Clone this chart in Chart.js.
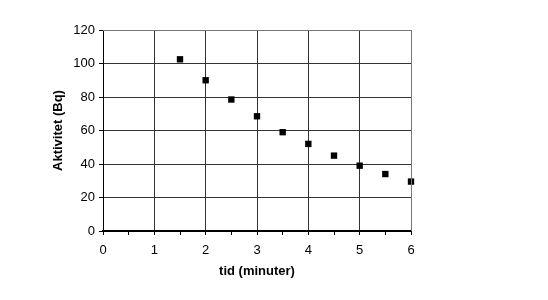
<!DOCTYPE html>
<html>
<head>
<meta charset="utf-8">
<script src="https://cdn.jsdelivr.net/npm/chart.js@4/dist/chart.umd.min.js"></script>
<style>
	html, body { margin: 0; padding: 0; background: #fff; }
	#wrap { width: 548px; height: 300px; }
</style>
</head>
<body>
<div id="wrap"><canvas id="chart" width="548" height="300"></canvas></div>
<script>
const tid = [1.5, 2, 2.5, 3, 3.5, 4, 4.5, 5, 5.5, 6];
const aktivitet = [102.5, 90, 78.5, 68.5, 59, 52, 45, 39, 34, 29.5];
const xTicks = [0, 1, 2, 3, 4, 5, 6];
const yTicks = [0, 20, 40, 60, 80, 100, 120];

const font = { family: "'Liberation Sans', Arial, sans-serif", size: 13 };
const titleFont = { family: "'Liberation Sans', Arial, sans-serif", size: 13, weight: 'bold' };
const isWhole = v => Math.abs(v - Math.round(v)) < 1e-6;

new Chart(document.getElementById('chart'), {
	type: 'scatter',
	data: {
		datasets: [{
			data: tid.map((t, i) => ({ x: t, y: aktivitet[i] })),
			pointStyle: 'rect',
			pointRadius: 4.5,
			backgroundColor: '#000',
			borderColor: '#000',
			borderWidth: 0,
			clip: false
		}]
	},
	options: {
		responsive: false,
		animation: false,
		layout: { padding: { left: 51, top: 30, right: 137, bottom: 21 } },
		plugins: { legend: { display: false }, tooltip: { enabled: false } },
		scales: {
			x: {
				type: 'linear',
				min: xTicks[0],
				max: xTicks[xTicks.length - 1],
				afterBuildTicks: axis => {
					const ticks = [];
					for (let v = xTicks[0]; v <= xTicks[xTicks.length - 1] + 1e-6; v += 0.5) ticks.push({ value: v });
					axis.ticks = ticks;
				},
				ticks: {
					color: '#000',
					font: font,
					padding: 8,
					maxRotation: 0,
					autoSkip: false,
					callback: v => isWhole(v) ? String(v) : ''
				},
				grid: {
					color: ctx => (ctx.tick && isWhole(ctx.tick.value)) ? '#333' : 'rgba(0,0,0,0)',
					tickColor: '#000',
					tickLength: 4,
					lineWidth: 1
				},
				border: { color: '#000', width: 2 },
				title: { display: true, text: 'tid (minuter)', color: '#000', font: titleFont, padding: { top: 10, bottom: 0 } },
				afterFit: axis => { axis.height = 48; }
			},
			y: {
				min: yTicks[0],
				max: yTicks[yTicks.length - 1],
				ticks: { stepSize: 20, color: '#000', font: font, padding: 4 },
				grid: { color: '#333', tickColor: '#000', tickLength: 4, lineWidth: 1 },
				border: { color: '#000', width: 1 },
				title: { display: true, text: 'Aktivitet (Bq)', color: '#000', font: titleFont, padding: { top: 0, bottom: 0 } },
				afterFit: axis => { axis.width = 52; }
			}
		}
	},
	plugins: [{
		id: 'frame',
		afterDraw: chart => {
			const a = chart.chartArea, c = chart.ctx;
			c.save();
			c.strokeStyle = '#777';
			c.lineWidth = 1;
			c.beginPath();
			c.moveTo(a.left, a.top + 0.5);
			c.lineTo(a.right + 0.5, a.top + 0.5);
			c.lineTo(a.right + 0.5, a.bottom);
			c.stroke();
			c.restore();
		}
	}]
});
</script>
</body>
</html>
